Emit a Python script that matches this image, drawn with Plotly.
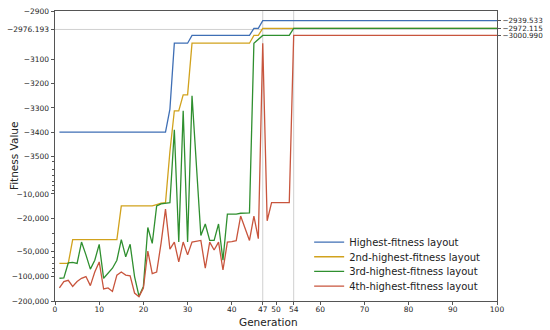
import math
import plotly.graph_objects as go

generations = list(range(1, 101))

highest = ([-3400.0] * 25 + [-3305.0] + [-3033.0] * 4 + [-3001.0] * 14
           + [-2972.0, -2972.0] + [-2939.533] * 54)

second = ([-70000.0] * 3 + [-36000.0] * 11 + [-14000.0] * 8
          + [-13500.0, -13000.0, -12800.0, -3480.0, -3312.0, -3312.0, -3246.0, -3246.0]
          + [-3033.0] * 14 + [-3001.0, -3001.0] + [-2972.115] * 54)

third = ([-105800.0, -105000.0, -69000.0, -68000.0, -70000.0, -38500.0, -55000.0,
          -82000.0, -64000.0, -41000.0, -106000.0, -93000.0, -80000.0, -64000.0,
          -36000.0, -58000.0, -41000.0, -101000.0, -175000.0, -133000.0, -25600.0,
          -40000.0, -14000.0, -13200.0, -13000.0, -12800.0, -3390.0, -38500.0,
          -3312.0, -38500.0, -3250.0, -5000.0, -32000.0, -23200.0, -36800.0,
          -36800.0, -23200.0, -64000.0, -17600.0, -17600.0, -17600.0, -17200.0,
          -17000.0, -17000.0, -3033.0, -3015.0]
         + [-3001.0] * 7 + [-2972.115] * 47)

fourth = ([-139000.0, -116000.0, -112000.0, -133000.0, -116000.0, -106000.0,
           -101000.0, -130000.0, -89000.0, -67000.0, -143000.0, -139000.0,
           -153000.0, -97000.0, -89000.0, -97000.0, -99000.0, -160000.0,
           -177000.0, -139000.0, -49400.0, -93000.0, -89000.0, -39700.0,
           -15300.0, -46800.0, -38500.0, -67000.0, -38500.0, -55000.0,
           -38500.0, -37500.0, -36800.0, -80000.0, -38500.0, -48000.0,
           -38500.0, -84000.0, -38500.0, -38000.0, -37000.0, -18600.0,
           -25800.0, -36800.0, -18600.0, -35000.0, -3033.0, -21200.0]
          + [-12800.0] * 5 + [-3000.990] * 47)

series_names = ["Highest-fitness layout", "2nd-highest-fitness layout",
                "3rd-highest-fitness layout", "4th-highest-fitness layout"]
series_colors = ["#3f6fb5", "#d1a21d", "#2f8f2f", "#c8553d"]

y_ticks = [-2900, -2976.193, -3100, -3200, -3300, -3400, -3500,
           -10000, -20000, -50000, -100000, -200000]
y_tick_labels = ["−2900", "−2976.193", "−3100", "−3200", "−3300", "−3400", "−3500",
                 "−10,000", "−20,000", "−50,000", "−100,000", "−200,000"]
y_minor_ticks = [-4000, -5000, -6000, -7000, -8000, -9000,
                 -30000, -40000, -60000, -70000, -80000, -90000]
final_values = [-2939.533, -2972.115, -3000.990]
final_labels = ["−2939.533", "−2972.115", "−3000.990"]
x_ticks = [0, 10, 20, 30, 40, 47, 50, 54, 60, 70, 80, 90, 100]
ref_x = [47, 54]
ref_y = [-2976.193]

# piecewise axis scale: linear above the break, logarithmic below it
BREAK = -3500.0
UNITS_PER_DECADE = 339.9


def scale(v):
    if v >= BREAK:
        return v
    return BREAK - UNITS_PER_DECADE * (math.log10(-v) - math.log10(-BREAK))


y_top, y_bottom = -2900, -200000
y_range = [scale(y_bottom), scale(y_top)]

legend_ids = ["legend", "legend2", "legend3", "legend4"]

fig = go.Figure()
for name, vals, col, lg in zip(series_names, [highest, second, third, fourth],
                               series_colors, legend_ids):
    fig.add_trace(go.Scatter(
        x=generations, y=[scale(v) for v in vals], mode="lines", name=name,
        line=dict(color=col, width=1.3), customdata=vals, legend=lg,
        hovertemplate="%{x}: %{customdata}<extra></extra>"))

# invisible trace to activate the right-hand axis
fig.add_trace(go.Scatter(x=[generations[-1]], y=[scale(final_values[0])], yaxis="y2",
                         mode="lines", showlegend=False, hoverinfo="skip",
                         line=dict(width=0)))

for xv in ref_x:
    fig.add_vline(x=xv, line=dict(color="#d0d0d0", width=1), layer="below")
for yv in ref_y:
    fig.add_hline(y=scale(yv), line=dict(color="#d0d0d0", width=1), layer="below")

tick_font = dict(family="DejaVu Sans", size=7.5, color="#262626")
legend_font = dict(family="DejaVu Sans", size=10, color="#222")

legend_layouts = {}
for i, lg in enumerate(legend_ids):
    legend_layouts[lg] = dict(x=0.575, y=0.203 - i * 0.0505, xanchor="left",
                              yanchor="middle", bgcolor="rgba(255,255,255,0)",
                              borderwidth=0, font=legend_font)

fig.update_layout(
    width=550, height=330,
    margin=dict(l=55, r=53, t=7, b=29),
    paper_bgcolor="white", plot_bgcolor="white",
    font=dict(family="DejaVu Sans", color="#262626"),
    xaxis=dict(range=[0, 100], tickmode="array", tickvals=x_ticks,
               ticktext=[str(v) for v in x_ticks], showgrid=False, zeroline=False,
               showline=True, linecolor="#555", linewidth=1, mirror=True,
               ticks="outside", ticklen=3, tickcolor="#555", tickfont=tick_font,
               ticklabelstandoff=-2),
    yaxis=dict(range=y_range, tickmode="array", tickvals=[scale(v) for v in y_ticks],
               ticktext=y_tick_labels, showgrid=False, zeroline=False,
               showline=True, linecolor="#555", linewidth=1, mirror=True,
               ticks="outside", ticklen=3.5, tickcolor="#555", tickfont=tick_font,
               minor=dict(tickmode="array", tickvals=[scale(v) for v in y_minor_ticks],
                          ticks="outside", ticklen=2, tickcolor="#555", showgrid=False)),
    yaxis2=dict(range=y_range, overlaying="y", side="right", tickmode="array",
                tickvals=[scale(v) for v in final_values], ticktext=final_labels,
                showgrid=False, zeroline=False, showline=False,
                ticks="outside", ticklen=3, tickcolor="#555",
                tickfont=dict(family="DejaVu Sans", size=7.2, color="#262626")),
    annotations=[
        dict(text="Generation", x=0.482, y=-0.071, xref="paper", yref="paper",
             xanchor="center", yanchor="middle", showarrow=False,
             font=dict(family="DejaVu Sans", size=10.5, color="#222")),
        dict(text="Fitness Value", x=-0.0925, y=0.5, xref="paper", yref="paper",
             xanchor="center", yanchor="middle", showarrow=False, textangle=-90,
             font=dict(family="DejaVu Sans", size=10.5, color="#222")),
    ],
    **legend_layouts,
)

fig.write_html("out.html", config={"displayModeBar": False},
               post_script="document.body.style.margin='0';")
